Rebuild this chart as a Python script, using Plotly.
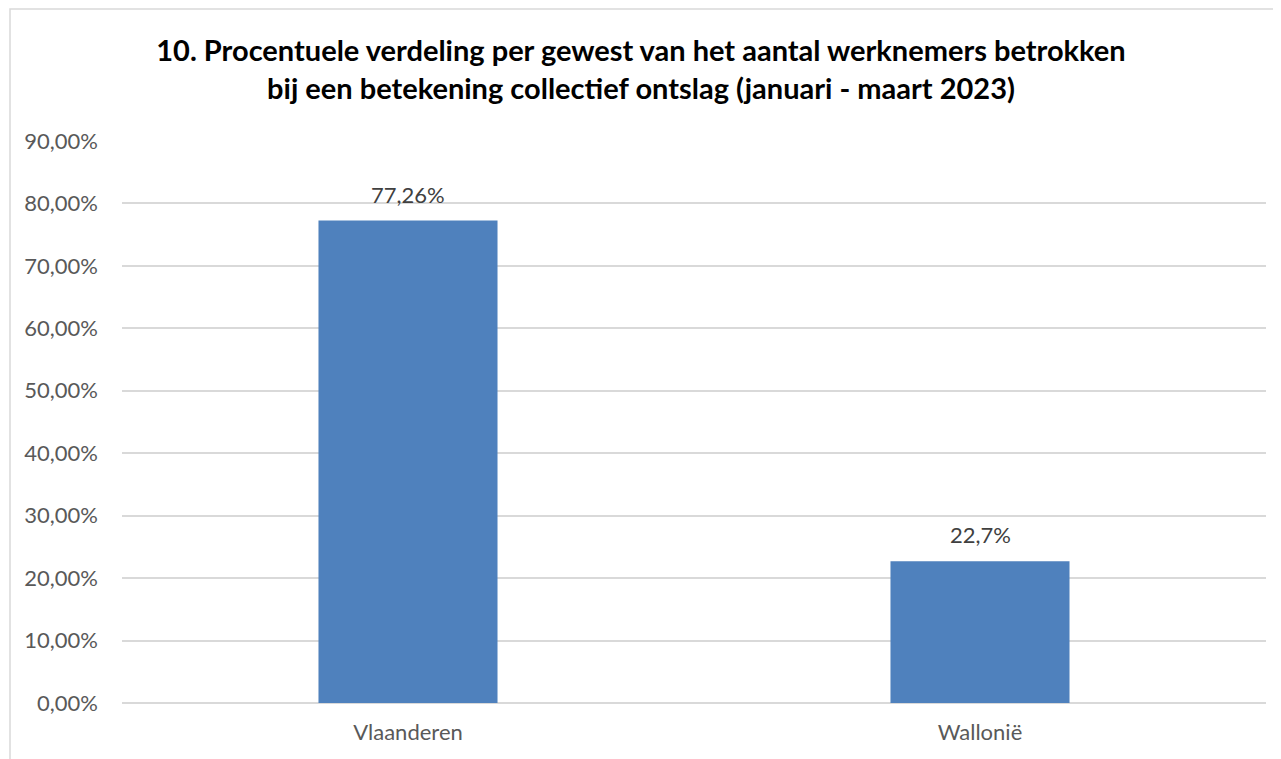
import plotly.graph_objects as go

categories = ["Vlaanderen", "Wallonië"]
values = [0.7726, 0.227]
value_labels = ["77,26%", "22,7%"]
tick_vals = [0, 0.1, 0.2, 0.3, 0.4, 0.5, 0.6, 0.7, 0.8, 0.9]

title_text = ("10. Procentuele verdeling per gewest van het aantal werknemers betrokken<br>"
              "bij een betekening collectief ontslag (januari - maart 2023)")

FONT = "Lato, 'Open Sans', sans-serif"
GRAY = "#595959"

W, H = 1273, 751
L, R, T, B = 114, 15, 133, 56
PW, PH = W - L - R, H - T - B

fig = go.Figure()
fig.add_trace(go.Bar(
    x=categories, y=values,
    marker=dict(color="#4F81BD", line=dict(width=0)),
    hoverinfo="skip",
))

for c, v, t in zip(categories, values, value_labels):
    fig.add_annotation(x=c, y=v, text=t, showarrow=False, yanchor="bottom",
                       yshift=11, font=dict(family=FONT, size=22, color="#404040"))

# chart border
fig.add_shape(type="rect", xref="paper", yref="paper",
              x0=(2 - L) / PW, x1=1.1, y0=-0.3, y1=(H - B - 1) / PH,
              line=dict(color="#D9D9D9", width=1.5), layer="below")

fig.update_layout(
    width=W, height=H,
    margin=dict(l=L, r=R, t=T, b=B),
    paper_bgcolor="white", plot_bgcolor="white",
    separators=",.",
    bargap=0.687,
    showlegend=False,
    title=dict(text=title_text, x=(641 - 8) / W, xanchor="center", xref="container",
               y=1 - 53 / H, yanchor="top", yref="container",
               font=dict(family=FONT, size=29, color="black", weight="bold")),
    font=dict(family=FONT, size=22, color=GRAY),
)
fig.update_xaxes(showline=False, ticks="", showgrid=False, zeroline=False,
                 ticklabelstandoff=14,
                 tickfont=dict(family=FONT, size=22, color=GRAY))
fig.update_yaxes(range=[0, 0.9], tickvals=tick_vals, tickformat=".2%",
                 showgrid=True, gridcolor="#D9D9D9", gridwidth=1.5,
                 zeroline=True, zerolinecolor="#D9D9D9", zerolinewidth=1.5,
                 showline=False, ticks="", ticklabelstandoff=23,
                 tickfont=dict(family=FONT, size=22, color=GRAY))

fig.write_html("out.html")
